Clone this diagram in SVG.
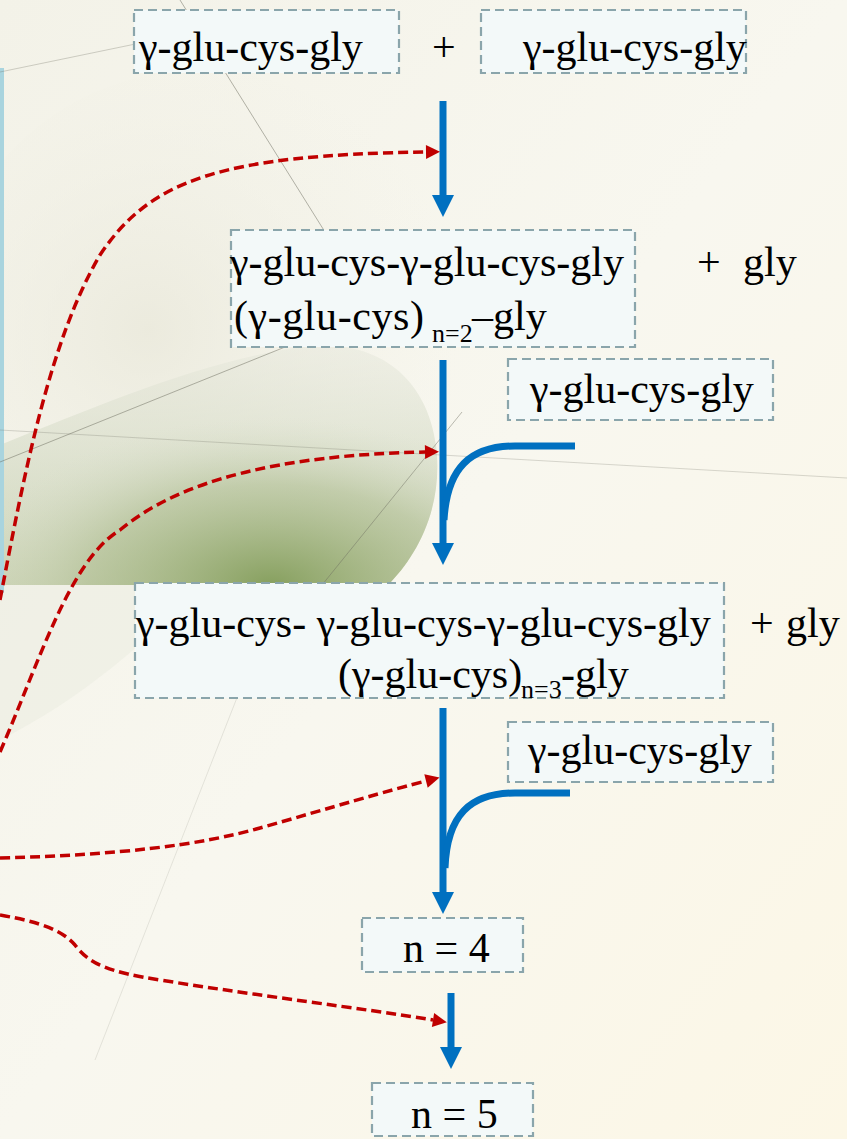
<svg xmlns="http://www.w3.org/2000/svg" width="847" height="1139" viewBox="0 0 847 1139">
<defs>
<linearGradient id="bg" x1="0" y1="0" x2="1" y2="1">
<stop offset="0" stop-color="#f3f2e8"/>
<stop offset="0.5" stop-color="#f8f7ef"/>
<stop offset="1" stop-color="#fcf7e6"/>
</linearGradient>
<linearGradient id="green" x1="0" y1="0" x2="0" y2="1">
<stop offset="0" stop-color="#e3e5d9" stop-opacity="0.5"/>
<stop offset="0.5" stop-color="#d2d9c2" stop-opacity="0.8"/>
<stop offset="1" stop-color="#c2cca9"/>
</linearGradient>
<radialGradient id="dark" cx="0.62" cy="1" r="0.7">
<stop offset="0" stop-color="#7f9a55" stop-opacity="0.9"/>
<stop offset="0.6" stop-color="#a9b98a" stop-opacity="0.5"/>
<stop offset="1" stop-color="#d6dcc8" stop-opacity="0"/>
</radialGradient>
<radialGradient id="haze" cx="0.4" cy="0.5" r="0.6">
<stop offset="0" stop-color="#e9e8da" stop-opacity="0.8"/>
<stop offset="1" stop-color="#f3f2e8" stop-opacity="0"/>
</radialGradient>
<marker id="blueHead" markerUnits="userSpaceOnUse" markerWidth="24" markerHeight="24" refX="0" refY="11" orient="auto" overflow="visible">
<path d="M0,0 L22,11 L0,22 Z" fill="#0070c0"/>
</marker>
<marker id="redHead" markerUnits="userSpaceOnUse" markerWidth="16" markerHeight="14" refX="0" refY="7" orient="auto" overflow="visible">
<path d="M0,0 L14,7 L0,14 Z" fill="#c00000"/>
</marker>
<style>
.box{fill:#f3f9f9;stroke:#8aa5ab;stroke-width:2.2;stroke-dasharray:9 5}
.t{font-family:'Liberation Serif','DejaVu Serif','Times New Roman',serif;font-size:42px;fill:#000}
.sub{font-size:26px}
.blue{fill:none;stroke:#0070c0;stroke-width:7}
.red{fill:none;stroke:#c00000;stroke-width:3.5;stroke-dasharray:10 5}
.deco{fill:none;stroke:#6d6d60;stroke-width:1}
</style>
</defs>

<g id="background">
<rect x="0" y="0" width="847" height="1139" fill="url(#bg)"/>
<ellipse cx="200" cy="330" rx="260" ry="260" fill="url(#haze)"/>
<path d="M0,445 C100,405 200,362 300,347 C385,336 428,385 436,445 C444,510 415,558 388,585 L0,585 Z" fill="url(#green)" opacity="0.8"/>
<path d="M0,445 C100,405 200,362 300,347 C385,336 428,385 436,445 C444,510 415,558 388,585 L0,585 Z" fill="url(#dark)"/>
<path d="M0,585 L200,585 C150,640 80,700 0,740 Z" fill="#e9ecdf" opacity="0.5"/>
<rect x="0" y="68" width="4" height="525" fill="#a9d4de"/>
<path class="deco" d="M180,0 L330,240" opacity="0.5"/>
<path class="deco" d="M0,72 L300,10" opacity="0.3"/>
<path class="deco" d="M0,430 L847,478" opacity="0.25"/>
<path class="deco" d="M0,462 L290,345" opacity="0.5"/>
<path class="deco" d="M462,412 L322,585" opacity="0.45"/>
<path class="deco" d="M240,690 L95,1060" opacity="0.15"/>
</g>

<g id="connectors">
<path class="blue" d="M443,101 L443,195" marker-end="url(#blueHead)"/>
<path class="blue" d="M443,360 L443,543" marker-end="url(#blueHead)"/>
<path class="blue" d="M575,446 L515,446 C470,446 447,468 444,520"/>
<path class="blue" d="M443,708 L443,892" marker-end="url(#blueHead)"/>
<path class="blue" d="M570,793 L515,793 C470,793 447,815 445,868"/>
<path class="blue" d="M451,993 L451,1047" marker-end="url(#blueHead)"/>
<path class="red" d="M0,600 C25,470 50,340 100,255 C150,180 220,155 426,152" marker-end="url(#redHead)"/>
<path class="red" d="M0,752 C40,660 70,560 120,530 C180,480 280,455 425,452" marker-end="url(#redHead)"/>
<path class="red" d="M0,858 C120,855 200,845 260,828 C330,808 390,790 426,781" marker-end="url(#redHead)"/>
<path class="red" d="M0,915 C40,922 62,930 75,945 C90,965 110,972 160,980 C260,996 360,1008 433,1020" marker-end="url(#redHead)"/>
</g>

<g id="nodeA">
<rect class="box" x="134" y="10" width="265" height="63"/>
<text class="t" x="139" y="61">γ-glu-cys-gly</text>
</g>
<g id="plus1">
<text class="t" x="432" y="61">+</text>
</g>
<g id="nodeB">
<rect class="box" x="481" y="10" width="265" height="63"/>
<text class="t" x="523" y="61">γ-glu-cys-gly</text>
</g>
<g id="nodeC">
<rect class="box" x="231" y="230" width="404" height="117"/>
<text class="t" x="230" y="276">γ-glu-cys-γ-glu-cys-gly</text>
<text class="t" x="234" y="330" textLength="190" lengthAdjust="spacing">(γ-glu-cys)</text>
<text class="t sub" x="432" y="342">n=2</text>
<text class="t" x="472" y="330">–gly</text>
</g>
<g id="glyC">
<text class="t" x="697" y="276">+</text>
<text class="t" x="743" y="276">gly</text>
</g>
<g id="nodeD">
<rect class="box" x="508" y="359" width="265" height="61"/>
<text class="t" x="530" y="403">γ-glu-cys-gly</text>
</g>
<g id="nodeE">
<rect class="box" x="135" y="583" width="589" height="115"/>
<text class="t" x="136" y="637">γ-glu-cys- γ-glu-cys-γ-glu-cys-gly</text>
<text class="t" x="338" y="688">(γ-glu-cys)</text>
<text class="t sub" x="521" y="698">n=3</text>
<text class="t" x="561" y="688">-gly</text>
</g>
<g id="glyE">
<text class="t" x="750" y="637">+</text>
<text class="t" x="786" y="637">gly</text>
</g>
<g id="nodeF">
<rect class="box" x="508" y="722" width="265" height="60"/>
<text class="t" x="528" y="764">γ-glu-cys-gly</text>
</g>
<g id="nodeG">
<rect class="box" x="362" y="918" width="161" height="54"/>
<text class="t" x="403" y="962">n = 4</text>
</g>
<g id="nodeH">
<rect class="box" x="372" y="1083" width="161" height="53"/>
<text class="t" x="411" y="1128">n = 5</text>
</g>
</svg>
